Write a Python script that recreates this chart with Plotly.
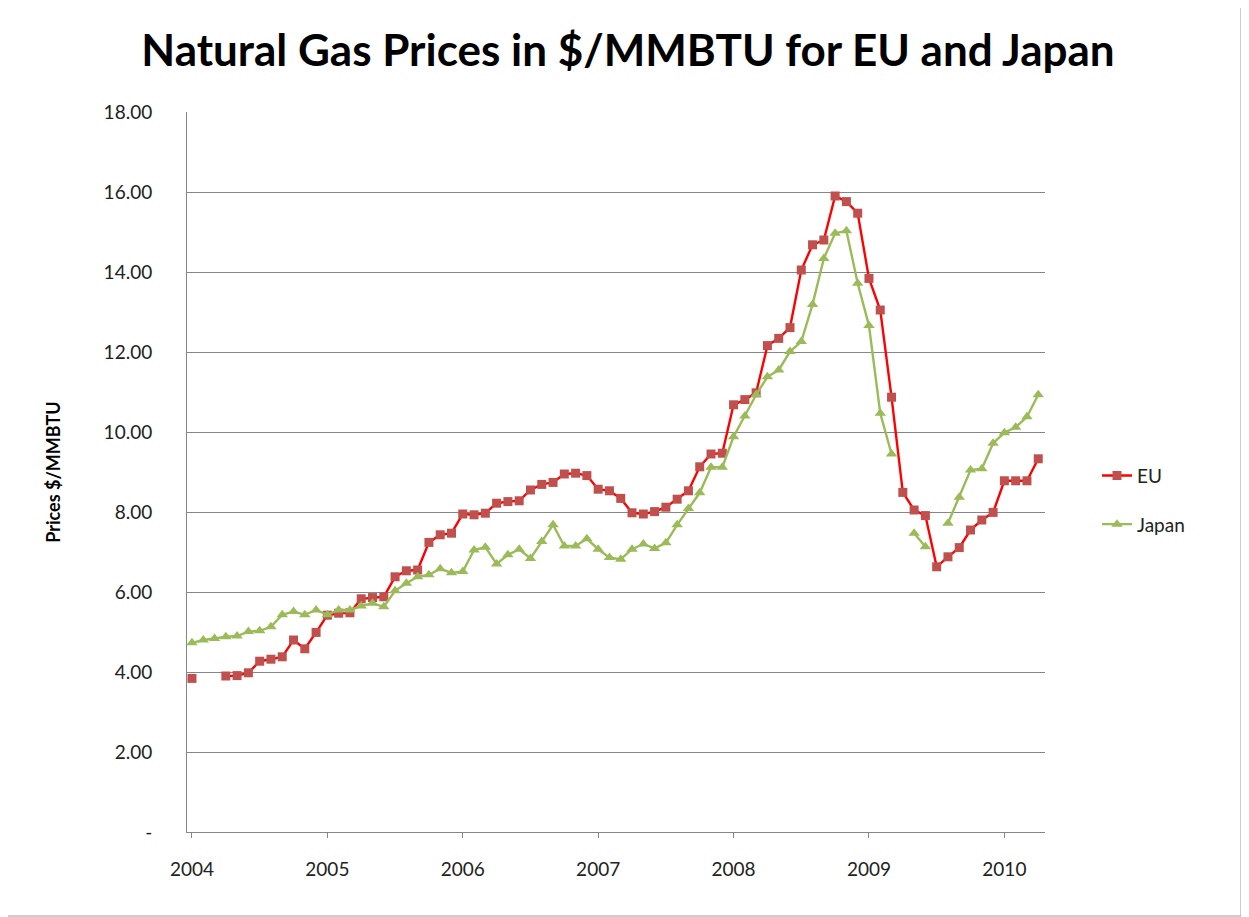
import plotly.graph_objects as go

# Monthly observations, Jan 2004 .. Apr 2010 (index 0..75)
month_index = list(range(76))

eu_prices = [
    3.84, None, None, 3.90, 3.91, 3.98, 4.27, 4.32, 4.38, 4.80, 4.58, 4.99,
    5.42, 5.47, 5.48, 5.83, 5.86, 5.88, 6.38, 6.53, 6.55, 7.24, 7.43, 7.47,
    7.95, 7.93, 7.97, 8.22, 8.26, 8.28, 8.55, 8.69, 8.74, 8.95, 8.97, 8.91,
    8.57, 8.53, 8.34, 7.98, 7.95, 8.01, 8.12, 8.32, 8.53, 9.13, 9.45, 9.47,
    10.68, 10.81, 10.98, 12.16, 12.34, 12.61, 14.05, 14.68, 14.80, 15.90, 15.76, 15.47,
    13.84, 13.05, 10.87, 8.49, 8.05, 7.91, 6.63, 6.88, 7.11, 7.55, 7.80, 7.99,
    8.78, 8.78, 8.78, 9.33,
]

japan_prices = [
    4.73, 4.80, 4.84, 4.88, 4.90, 5.01, 5.03, 5.13, 5.43, 5.51, 5.43, 5.55,
    5.43, 5.55, 5.55, 5.65, 5.72, 5.63, 6.03, 6.22, 6.38, 6.43, 6.58, 6.48,
    6.51, 7.05, 7.12, 6.70, 6.93, 7.07, 6.84, 7.26, 7.68, 7.15, 7.15, 7.33,
    7.07, 6.86, 6.82, 7.07, 7.20, 7.09, 7.23, 7.68, 8.09, 8.48, 9.12, 9.12,
    9.88, 10.40, 10.93, 11.38, 11.55, 12.01, 12.26, 13.19, 14.34, 14.97, 15.03, 13.72,
    12.66, 10.47, 9.45, None, 7.47, 7.13, None, 7.72, 8.37, 9.05, 9.08, 9.72,
    9.98, 10.12, 10.38, 10.93,
]

year_tick_positions = [0, 12, 24, 36, 48, 60, 72]
year_tick_labels = ["2004", "2005", "2006", "2007", "2008", "2009", "2010"]

y_tick_values = [0, 2, 4, 6, 8, 10, 12, 14, 16, 18]
y_tick_labels = ["-", "2.00", "4.00", "6.00", "8.00", "10.00", "12.00", "14.00", "16.00", "18.00"]

FONT = "Lato, 'Open Sans', sans-serif"

# page body adds an 8px offset; margins compensate so the plot area sits at 187..1045 x 112..832
fig = go.Figure()
fig.add_trace(go.Scatter(
    x=month_index, y=eu_prices, name="EU", mode="lines+markers",
    line=dict(color="#FF0000", width=2.4),
    marker=dict(symbol="square", size=9, color="#C0504D"),
    connectgaps=False, legendgroup="eu",
))
fig.add_trace(go.Scatter(
    x=month_index, y=japan_prices, name="Japan", mode="lines+markers",
    line=dict(color="#9BBB59", width=2.4),
    marker=dict(symbol="triangle-up", size=10, color="#9BBB59"),
    connectgaps=False, legendgroup="jp",
))

fig.update_layout(
    width=1249, height=917,
    paper_bgcolor="white", plot_bgcolor="white",
    margin=dict(l=179, r=212, t=104, b=93),
    font=dict(family=FONT, size=17, color="#222222"),
    title=dict(
        text="<b>Natural Gas Prices in $/MMBTU for EU and Japan</b>",
        x=0.4964, xanchor="center", y=0.954, yanchor="middle",
        font=dict(family=FONT, size=44, color="#000000"),
    ),
    showlegend=True,
    legend=dict(
        x=1.0606, xanchor="left", y=0.461, yanchor="middle",
        font=dict(family=FONT, size=19, color="#222222"),
        tracegroupgap=21, bgcolor="rgba(0,0,0,0)",
    ),
    xaxis=dict(
        range=[-0.44, 75.6],
        tickmode="array", tickvals=year_tick_positions, ticktext=year_tick_labels,
        showgrid=False, zeroline=False,
        showline=True, linecolor="#868686", linewidth=1,
        ticks="outside", ticklen=5, tickcolor="#868686",
        ticklabelstandoff=15,
        tickfont=dict(family=FONT, size=19, color="#222222"),
    ),
    yaxis=dict(
        range=[0, 18],
        tickmode="array", tickvals=y_tick_values, ticktext=y_tick_labels,
        showgrid=True, gridcolor="#868686", gridwidth=1,
        zeroline=False,
        showline=True, linecolor="#868686", linewidth=1,
        ticklabelstandoff=30,
        tickfont=dict(family=FONT, size=19, color="#222222"),
        title=dict(text="<b>Prices $/MMBTU</b>", standoff=38,
                   font=dict(family=FONT, size=18, color="#000000")),
    ),
    shapes=[dict(
        type="rect", xref="paper", yref="paper",
        x0=(1 - 187) / 858, x1=(1241 - 187) / 858,
        y0=(832 - 916) / 720, y1=(832 - 0) / 720,
        line=dict(color="#9a9a9a", width=1), fillcolor="rgba(0,0,0,0)", layer="below",
    )],
)

fig.write_html("out.html")
